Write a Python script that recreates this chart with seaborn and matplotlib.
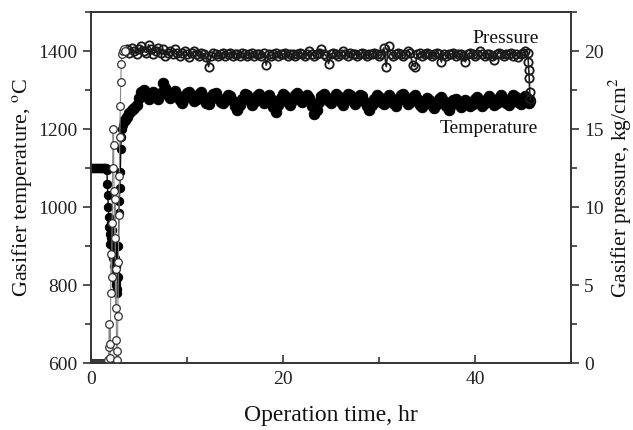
import numpy as np
import pandas as pd
import matplotlib
matplotlib.use("Agg")
import matplotlib.pyplot as plt
import seaborn as sns
from matplotlib.ticker import MultipleLocator

# ---------------- data ----------------
# start-up period (irregular sampling)
t_start = [0.0, 0.1, 0.2, 0.3, 0.4, 0.5, 0.6, 0.7, 0.8, 0.9, 1.0, 1.1, 1.2, 1.3,
           1.4, 1.5, 1.6, 1.65, 1.7, 1.75, 1.8, 1.85, 1.9, 1.95, 2.0, 2.05, 2.1,
           2.15, 2.2, 2.25, 2.3, 2.35, 2.4, 2.45, 2.5, 2.55, 2.6, 2.65, 2.7, 2.75,
           2.8, 2.85, 2.9, 2.95, 3.0, 3.05, 3.1, 3.15, 3.2, 3.3, 3.4, 3.5]
temp_start = [1100, 1100, 1100, 1100, 1100, 1100, 1100, 1100, 1100, 1100, 1100,
              1100, 1100, 1100, 1100, 1100, 1100, 1095, 1060, 1030, 1000, 975,
              950, 930, 905, 960, 920, 880, 940, 870, 900, 850, 890, 830, 870,
              810, 850, 800, 790, 780, 820, 900, 985, 1015, 1050, 1090, 1150,
              1180, 1200, 1210, 1218, 1222]
pres_start = [0, 0, 0, 0, 0, 0, 0, 0, 0, 0, 0, 0, 0, 0, 0, 0, 0, 0, 0, 0, 0.2,
              1.0, 2.5, 1.2, 0.3, 4.5, 7.0, 5.5, 9.0, 12.5, 15.0, 14.0, 11.0, 8.0,
              10.5, 3.5, 6.0, 1.5, 0.2, 0.8, 3.0, 6.5, 9.5, 12.0, 14.5, 16.5,
              18.0, 19.2, 19.8, 20.0, 20.1, 20.0]

# steady operation, sampled every 0.25 hr from 3.5 to 45.5 hr
t_main = np.arange(3.5, 45.5001, 0.25)
temp_main = [
    1222, 1232, 1242, 1250, 1255, 1262, 1280, 1296,
    1300, 1288, 1276, 1284, 1296, 1290, 1278, 1292,
    1318, 1306, 1286, 1280, 1292, 1298, 1288, 1274,
    1268, 1280, 1292, 1296, 1284, 1272, 1278, 1290,
    1294, 1282, 1268, 1264, 1276, 1290, 1292, 1280,
    1270, 1266, 1278, 1288, 1284, 1272, 1258, 1248,
    1262, 1278, 1290, 1286, 1274, 1262, 1270, 1284,
    1290, 1280, 1266, 1274, 1286, 1278, 1256, 1244,
    1262, 1280, 1290, 1284, 1270, 1262, 1274, 1288,
    1292, 1282, 1270, 1276, 1288, 1280, 1258, 1238,
    1250, 1270, 1284, 1290, 1282, 1272, 1266, 1278,
    1290, 1284, 1270, 1262, 1276, 1290, 1286, 1272,
    1264, 1276, 1288, 1284, 1270, 1258, 1250, 1262,
    1278, 1288, 1282, 1270, 1264, 1276, 1286, 1280,
    1268, 1260, 1272, 1286, 1290, 1278, 1264, 1270,
    1282, 1288, 1276, 1262, 1256, 1268, 1280, 1274,
    1262, 1254, 1264, 1276, 1282, 1272, 1258, 1250,
    1262, 1274, 1278, 1268, 1256, 1262, 1274, 1270,
    1258, 1264, 1276, 1282, 1272, 1260, 1266, 1278,
    1284, 1274, 1262, 1268, 1280, 1288, 1278, 1266,
    1262, 1274, 1286, 1282, 1270, 1264, 1276, 1284,
    1276]
pres_main = [
    20.0, 20.1, 19.9, 20.2, 20.0, 19.8, 20.1, 20.3,
    20.0, 19.9, 20.4, 20.1, 19.8, 20.0, 20.2, 19.9,
    20.1, 19.7, 19.9, 20.0, 19.8, 20.1, 19.9, 19.7,
    19.9, 20.0, 19.8, 19.6, 19.9, 20.0, 19.8, 19.7,
    19.9, 19.8, 19.6, 19.0, 19.7, 19.9, 19.8, 19.7,
    19.8, 19.9, 19.7, 19.8, 19.9, 19.7, 19.8, 19.8,
    19.7, 19.9, 19.8, 19.7, 19.8, 19.9, 19.7, 19.8,
    19.8, 19.7, 19.9, 19.1, 19.8, 19.7, 19.8, 19.9,
    19.7, 19.8, 19.8, 19.9, 19.7, 19.8, 19.8, 19.7,
    19.8, 19.9, 19.8, 19.7, 19.8, 20.0, 19.8, 19.7,
    19.8, 19.9, 20.1, 19.8, 19.7, 19.2, 19.8, 19.9,
    19.8, 19.7, 19.8, 20.0, 19.8, 19.7, 19.9, 19.8,
    19.8, 19.7, 19.8, 19.9, 19.8, 19.7, 19.8, 19.8,
    19.9, 19.8, 19.7, 19.8, 20.2, 19.0, 20.3, 19.8,
    19.7, 19.8, 19.9, 19.8, 19.7, 19.8, 20.0, 19.9,
    19.1, 19.0, 19.8, 19.9, 19.7, 19.8, 19.9, 19.8,
    19.7, 19.8, 19.9, 19.8, 19.3, 19.8, 19.7, 19.8,
    19.8, 19.9, 19.7, 19.8, 19.8, 19.7, 19.3, 19.8,
    19.9, 19.8, 19.7, 19.8, 20.0, 19.8, 19.7, 19.8,
    19.8, 19.7, 19.4, 19.8, 19.9, 19.8, 19.7, 19.8,
    19.8, 19.9, 19.7, 19.8, 19.6, 19.8, 19.9, 20.0,
    19.9]

# shut-down tail
t_end = [45.6, 45.7]
temp_end = [1268, 1272]
t_pend = [45.55, 45.6, 45.65, 45.7, 45.75]
pres_end = [19.3, 18.8, 18.3, 17.4, 16.9]

temp_start_df = pd.DataFrame({"time": t_start, "temp": temp_start})
temp_main_df = pd.DataFrame({"time": list(t_main) + t_end,
                             "temp": temp_main + temp_end})
pres_start_df = pd.DataFrame({"time": t_start, "pres": pres_start})
pres_main_df = pd.DataFrame({"time": list(t_main) + t_pend,
                             "pres": pres_main + pres_end})

# ---------------- plot ----------------
sns.set_theme(style="ticks")
plt.rcParams["font.family"] = ["Liberation Serif", "DejaVu Serif"]
plt.rcParams["mathtext.fontset"] = "stix"

fig = plt.figure(figsize=(6.33, 4.30), dpi=100)
ax = fig.add_axes([0.1438, 0.1558, 0.7582, 0.8162])
ax2 = ax.twinx()

# temperature (filled black circles)
sns.lineplot(data=temp_main_df, x="time", y="temp", ax=ax, sort=False,
             estimator=None, color="black", lw=3.0, marker="o",
             markersize=7.5, markerfacecolor="black", markeredgecolor="black")
sns.lineplot(data=temp_start_df, x="time", y="temp", ax=ax, sort=False,
             estimator=None, color="black", lw=1.0, marker="o",
             markersize=6, markerfacecolor="black", markeredgecolor="black")

# pressure (open circles)
sns.lineplot(data=pres_main_df, x="time", y="pres", ax=ax2, sort=False,
             estimator=None, color="#222222", lw=1.2, marker="o",
             markersize=6, markerfacecolor="none", markeredgecolor="#1a1a1a",
             markeredgewidth=1.3)
sns.lineplot(data=pres_start_df, x="time", y="pres", ax=ax2, sort=False,
             estimator=None, color="#888888", lw=0.8, marker="o",
             markersize=5.5, markerfacecolor="white", markeredgecolor="#333333",
             markeredgewidth=0.9)

ax.set_xlim(0, 50)
ax.set_ylim(600, 1500)
ax2.set_ylim(0, 22.5)

ax.xaxis.set_major_locator(MultipleLocator(20))
ax.xaxis.set_minor_locator(MultipleLocator(10))
ax.yaxis.set_major_locator(MultipleLocator(200))
ax.yaxis.set_minor_locator(MultipleLocator(100))
ax2.yaxis.set_major_locator(MultipleLocator(5))
ax2.yaxis.set_minor_locator(MultipleLocator(2.5))

spine_col = "#333333"
for a in (ax, ax2):
    for s in a.spines.values():
        s.set_visible(True)
        s.set_color(spine_col)
        s.set_linewidth(1.2)

ax.tick_params(axis="x", which="both", direction="in", colors=spine_col,
               labelcolor="#222222", labelsize=14, top=False, pad=6)
ax.tick_params(axis="x", which="major", length=6, width=1.2)
ax.tick_params(axis="x", which="minor", length=4, width=1.2)
ax.tick_params(axis="y", which="both", direction="out", colors=spine_col,
               labelcolor="#222222", labelsize=14)
ax.tick_params(axis="y", which="major", length=6, width=1.2)
ax.tick_params(axis="y", which="minor", length=4, width=1.2)
ax2.tick_params(axis="y", which="both", direction="out", colors=spine_col,
                labelcolor="#222222", labelsize=14)
ax2.tick_params(axis="y", which="major", length=6, width=1.2)
ax2.tick_params(axis="y", which="minor", length=4, width=1.2)

ax.set_xlabel("Operation time, hr", fontsize=17, color="#111111", labelpad=12)
ax.set_ylabel(r"Gasifier temperature, $^{\mathrm{o}}$C", fontsize=16,
              color="#111111", labelpad=3)
ax2.set_ylabel(r"Gasifier pressure, kg/cm$^{2}$", fontsize=15.5,
               color="#111111")
ax2.yaxis.set_label_coords(1.074, 0.5)

ax.text(46.6, 1432, "Pressure", fontsize=14, ha="right", va="center",
        color="#111111")
ax.text(46.6, 1222, "Temperature", fontsize=14, ha="right", va="top",
        color="#111111")

fig.savefig("out.png", dpi=100)
